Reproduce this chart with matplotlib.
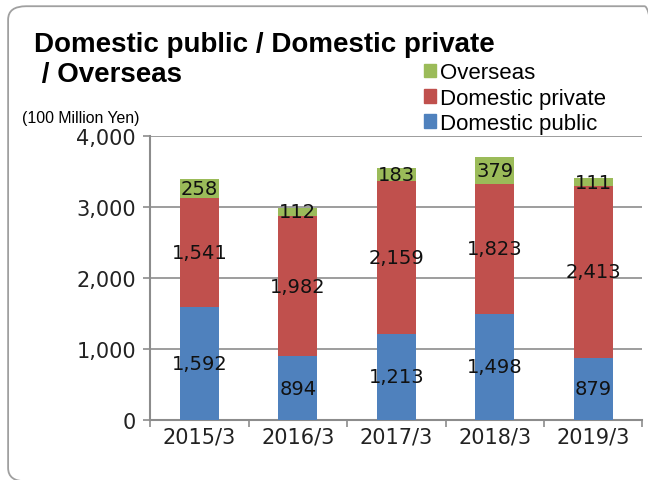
import matplotlib
matplotlib.use("Agg")
from matplotlib import pyplot as plt
from matplotlib.patches import FancyBboxPatch, Patch
import numpy as np

years = ["2015/3", "2016/3", "2017/3", "2018/3", "2019/3"]
domestic_public = [1592, 894, 1213, 1498, 879]
domestic_private = [1541, 1982, 2159, 1823, 2413]
overseas = [258, 112, 183, 379, 111]

BLUE = "#4f81bd"
RED = "#c0504d"
GREEN = "#9bbb59"
GRID = "#8c8c8c"

fig = plt.figure(figsize=(6.48, 4.81), dpi=100)

# rounded frame around the whole chart (runs off the right/bottom edges)
frame = FancyBboxPatch((0.0125, -0.003), 1.01, 0.988, boxstyle="round,pad=0,rounding_size=0.028",
                       transform=fig.transFigure, fill=False, edgecolor="#a0a0a0", lw=1.3)
fig.patches.append(frame)

ax = fig.add_axes([0.2315, 0.125, 0.76, 0.59])
x = np.arange(len(years))
w = 0.4
b1 = ax.bar(x, domestic_public, w, color=BLUE, zorder=3)
bottom2 = np.array(domestic_public)
b2 = ax.bar(x, domestic_private, w, bottom=bottom2, color=RED, zorder=3)
bottom3 = bottom2 + np.array(domestic_private)
b3 = ax.bar(x, overseas, w, bottom=bottom3, color=GREEN, zorder=3)

lbl_font = dict(family="DejaVu Sans", fontsize=14, color="#111111")
tick_font = dict(family="DejaVu Sans", fontsize=15, color="#222222")
for vals, bots in [(domestic_public, np.zeros(5)), (domestic_private, bottom2),
                   (overseas, bottom3)]:
    for i, v in enumerate(vals):
        ax.text(x[i], bots[i] + v / 2, f"{v:,}", ha="center", va="center", zorder=4, **lbl_font)

ax.set_xlim(-0.5, 4.5)
ax.set_ylim(0, 4000)
ax.set_yticks([0, 1000, 2000, 3000, 4000])
ax.set_yticklabels([f"{v:,}" for v in [0, 1000, 2000, 3000, 4000]], **tick_font)
ax.set_xticks(x)
ax.set_xticklabels(years, **tick_font)
ax.set_xticks(np.arange(-0.5, 5, 1), minor=True)
ax.tick_params(axis="x", which="major", length=0, pad=5)
ax.tick_params(axis="x", which="minor", length=5, color=GRID, width=1.2)
ax.tick_params(axis="y", length=5, color=GRID, width=1.2, pad=5)
ax.yaxis.grid(True, color=GRID, lw=1.2, zorder=0)
for s in ["top", "right"]:
    ax.spines[s].set_visible(False)
for s in ["left", "bottom"]:
    ax.spines[s].set_color(GRID)
    ax.spines[s].set_linewidth(1.5)

title_kw = dict(fontsize=20, fontweight="bold", family="Liberation Sans", va="center", ha="left")
fig.text(0.053, 0.906, "Domestic public / Domestic private", **title_kw)
fig.text(0.053, 0.844, " / Overseas", **title_kw)
fig.text(0.034, 0.753, "(100 Million Yen)", fontsize=11.4, family="Liberation Sans", va="center")

handles = [Patch(color=GREEN), Patch(color=RED), Patch(color=BLUE)]
fig.legend(handles, ["Overseas", "Domestic private", "Domestic public"],
           loc="upper left", bbox_to_anchor=(0.654, 0.868), frameon=False,
           prop=dict(family="Liberation Sans", size=16), handlelength=0.55, handleheight=0.55,
           handletextpad=0.2, labelspacing=0.19, borderpad=0, borderaxespad=0)

fig.savefig("out.png", dpi=100)
